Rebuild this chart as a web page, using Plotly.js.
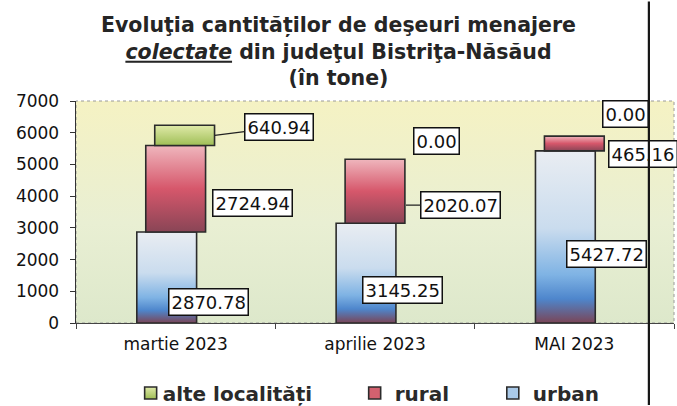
<!DOCTYPE html>
<html><head><meta charset="utf-8">
<script src="https://cdn.plot.ly/plotly-3.0.1.min.js"></script>
<style>html,body{margin:0;padding:0;background:#fff}#chart{width:677px;height:406px}</style>
</head><body><div id="chart"></div>
<script>
// ---- data ----
const categories = ['martie 2023', 'aprilie 2023', 'MAI 2023'];
const urban = [2870.78, 3145.25, 5427.72];
const rural = [2724.94, 2020.07, 465.16];
const alte = [640.94, 0.00, 0.00];
const seriesNames = ['urban', 'rural', 'alte localități'];
const yTickVals = [0, 1000, 2000, 3000, 4000, 5000, 6000, 7000];
const titleText = 'Evoluţia cantităților de deşeuri menajere<br><i><span style="text-decoration:underline">colectate</span></i> din judeţul Bistriţa-Năsăud<br>(în tone)';

// ---- styling ----
const FONT = 'DejaVu Sans, Arial, sans-serif';
const solid = ['#a9c9e8', '#d3616f', '#c3d67e'];
const gradStops = [
  [[0, '#e9edf2'], [0.45, '#cadcee'], [0.72, '#7fb3e4'], [0.86, '#4e86cc'], [1, '#7a4557']],
  [[0, '#efb6bd'], [0.5, '#d6576b'], [1, '#894556']],
  [[0, '#e0eaa9'], [1, '#9fbe56']]
];
const bgStops = [[0, '#f5f2c3'], [0.55, '#e9efd3'], [1, '#dde8cb']];
const barWidth = 0.3;
const barOffsets = [-0.195, -0.15, -0.105];
const legendIds = ['legend3', 'legend2', 'legend'];
// label box offsets in px from (category centre, segment middle): [dx, dy(down), tipDx, tipDy] (tip only for leader lines)
const labelPos = [
  [[33, 25], [27.5, 17], [32, 17]],
  [[77, 14], [85.5, 14, 31, 14], [69, 10.5]],
  [[103, -8, 39, 0], [61.5, -18], [51, -22]]
];

const series = [urban, rural, alte];
const bases = [
  urban.map(() => 0),
  urban.slice(),
  urban.map((u, i) => u + rural[i])
];

const data = series.map((vals, s) => ({
  type: 'bar',
  name: seriesNames[s],
  x: categories,
  y: vals,
  base: bases[s],
  width: barWidth,
  offset: barOffsets[s],
  legend: legendIds[s],
  marker: {
    color: solid[s],
    line: {color: '#2b2b2b', width: vals.map(v => v > 0 ? 1.6 : 0)}
  },
  hoverinfo: 'skip'
}));

const annotations = [];
series.forEach((vals, s) => {
  vals.forEach((v, i) => {
    const p = labelPos[s][i];
    const a = {
      x: categories[i], y: bases[s][i] + v / 2, xref: 'x', yref: 'y',
      text: v.toFixed(2),
      font: {family: FONT, size: 18, color: '#111'},
      bgcolor: '#ffffff', bordercolor: '#111', borderwidth: 1.5, borderpad: 2
    };
    if (p.length > 2) {
      a.showarrow = true; a.arrowhead = 0; a.arrowwidth = 1.3; a.arrowcolor = '#222';
      a.xshift = p[2]; a.yshift = -p[3];
      a.ax = p[0] - p[2]; a.ay = p[1] - p[3];
    } else {
      a.showarrow = false; a.xshift = p[0]; a.yshift = -p[1];
    }
    annotations.push(a);
  });
});
// scanned page edge line (drawn above the labels)
annotations.push({
  xref: 'paper', yref: 'paper', x: 0.958, y: -0.374, ax: 0, ay: -410,
  text: '', showarrow: true, arrowhead: 0, arrowwidth: 2.2, arrowcolor: '#151515'
});

const legendBase = {
  orientation: 'h', xanchor: 'left', yanchor: 'middle', y: -0.315,
  bgcolor: 'rgba(0,0,0,0)', borderwidth: 0,
  font: {family: FONT, size: 20, color: '#2a2a2a', weight: 'bold'}
};

const layout = {
  width: 677, height: 406,
  margin: {l: 76, r: 3, t: 101, b: 83, autoexpand: false},
  paper_bgcolor: '#ffffff',
  plot_bgcolor: '#eef0cc',
  font: {family: FONT, size: 17, color: '#111'},
  barmode: 'overlay',
  title: {
    text: titleText, x: 0.5, xanchor: 'center', xref: 'container', yref: 'container', y: 0.921, yanchor: 'top',
    font: {family: FONT, size: 20.5, color: '#252525', weight: 'bold'}
  },
  xaxis: {
    type: 'category', range: [-0.5, 2.5], showgrid: false, zeroline: false,
    showline: true, linecolor: '#444', linewidth: 1.2,
    ticks: 'outside', tickson: 'boundaries', ticklen: 5, tickcolor: '#444',
    tickfont: {family: FONT, size: 17, color: '#111'}, ticklabelstandoff: 5
  },
  yaxis: {
    range: [0, 7000], tickvals: yTickVals, showgrid: false, zeroline: false,
    showline: true, linecolor: '#333', linewidth: 1.4,
    ticks: 'outside', ticklen: 5, tickcolor: '#333',
    tickfont: {family: FONT, size: 17, color: '#111'}, ticklabelstandoff: 7
  },
  shapes: [
    {type: 'rect', xref: 'paper', yref: 'paper', x0: 0, x1: 1, y0: 0, y1: 1,
     line: {color: '#9a9a9a', width: 1, dash: 'dot'}, layer: 'below'}
  ],
  legend: Object.assign({}, legendBase, {x: 0.078}),
  legend2: Object.assign({}, legendBase, {x: 0.466}),
  legend3: Object.assign({}, legendBase, {x: 0.697}),
  annotations: annotations,
  showlegend: true
};

function applyGradients(gd) {
  const ns = 'http://www.w3.org/2000/svg';
  const svg = gd.querySelector('svg.main-svg');
  let defs = svg.querySelector('defs');
  if (!defs) { defs = document.createElementNS(ns, 'defs'); svg.insertBefore(defs, svg.firstChild); }
  function mk(id, stops) {
    const g = document.createElementNS(ns, 'linearGradient');
    g.setAttribute('id', id);
    g.setAttribute('x1', '0'); g.setAttribute('y1', '0');
    g.setAttribute('x2', '0'); g.setAttribute('y2', '1');
    stops.forEach(([o, c]) => {
      const st = document.createElementNS(ns, 'stop');
      st.setAttribute('offset', o); st.setAttribute('stop-color', c);
      g.appendChild(st);
    });
    defs.appendChild(g);
  }
  gradStops.forEach((st, i) => mk('barGrad' + i, st));
  mk('bgGrad', bgStops);
  gd.querySelectorAll('.barlayer .trace').forEach((t, i) => {
    t.querySelectorAll('path').forEach(p => { p.style.fill = 'url(#barGrad' + i + ')'; });
  });
  gd.querySelectorAll('.legend .traces').forEach(el => {
    const d = el.__data__;
    const idx = d && d[0] && d[0].trace ? d[0].trace.index : null;
    if (idx !== null) el.querySelectorAll('.legendpoints path').forEach(p => { p.style.fill = 'url(#barGrad' + idx + ')'; });
    const ls = el.querySelector('.legendsymbols');
    if (ls) ls.setAttribute('transform', ((ls.getAttribute('transform') || '') + ' translate(8,0)').trim());
  });
  const bg = gd.querySelector('rect.bg');
  if (bg) bg.style.fill = 'url(#bgGrad)';
}

Plotly.newPlot('chart', data, layout, {staticPlot: true, displayModeBar: false}).then(applyGradients);
</script>
</body></html>
